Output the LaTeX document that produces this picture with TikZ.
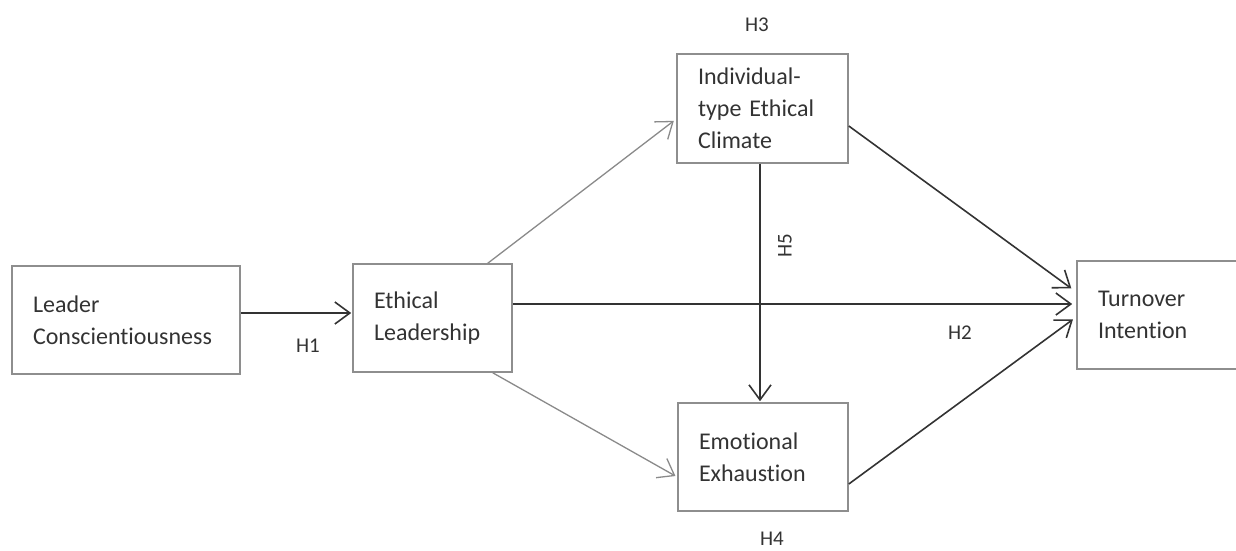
\documentclass[tikz,border=0pt]{standalone}
\usepackage{fontspec}
\setmainfont{Carlito}[RawFeature=-liga]
\usepackage{tikz}
\usetikzlibrary{arrows.meta}
\usetikzlibrary{positioning}

\definecolor{boxgray}{HTML}{8E8E8E}
\definecolor{inkgray}{HTML}{333333}
\definecolor{linegray}{HTML}{8A8A8A}

\tikzset{
  varbox/.style={draw=boxgray, line width=1.6pt, text=inkgray, align=left,
    inner xsep=21pt, inner ysep=0pt, minimum height=108pt,
    font=\fontsize{24}{32}\selectfont},
  hyp/.style={text=inkgray, inner sep=0pt, font=\fontsize{21}{24}\selectfont},
  path/.style={draw=inkgray, line width=1.6pt,
    -{Straight Barb[length=15pt,width=22pt,line width=1.6pt]}, shorten >=4pt},
  weakpath/.style={path, draw=linegray, line width=1.3pt,
    -{Straight Barb[length=15pt,width=22pt,line width=1.3pt]}}
}

\begin{document}
\begin{tikzpicture}[x=1pt, y=-1pt]
    \useasboundingbox (0,0) rectangle (1236,550);
    % constructs
    \node[varbox, text width=186pt] (lc) at (126,320) {Leader\\Conscientiousness};
    \node[varbox, text width=117pt] (el) at (432.5,318) {Ethical\\Leadership};
    \node[varbox, text width=129pt, minimum height=109pt] (ic) at (762.5,108.5) {Individual-\\type Ethical\\Climate};
    \node[varbox, text width=128pt] (ee) at (763,457) {Emotional\\Exhaustion};
    \node[varbox, text width=128pt] (ti) at (1162,315) {Turnover\\Intention};
    % paths
    \draw[path, shorten >=1pt] ([yshift=7pt]lc.east) -- ([yshift=5pt]el.west);
    \draw[path] ([yshift=14pt]el.east) -- ([yshift=11pt]ti.west);
    \draw[weakpath, shorten >=3pt] ([xshift=-25pt]el.north east) -- ([yshift=-10.5pt]ic.west);
    \draw[weakpath, shorten >=2pt] ([xshift=-20pt]el.south east) -- ([yshift=-20pt]ee.west);
    \draw[path, shorten >=1pt] ([xshift=-2.5pt]ic.south) -- ([xshift=-3pt]ee.north);
    \draw[path, shorten >=6pt] ([yshift=-17.5pt]ic.east) -- ([yshift=23pt]ti.west);
    \draw[path, shorten >=4pt] ([yshift=-27pt]ee.east) -- ([yshift=-2pt]ti.west);
    % hypotheses
    \node[hyp] (h1) at (308,346) {H1};
    \node[hyp] (h2) at (960,333) {H2};
    \node[hyp] (h3) at (757,25) {H3};
    \node[hyp] (h4) at (772,539) {H4};
    \node[hyp, rotate=90] (h5) at (785,246) {H5};
  \end{tikzpicture}
\end{document}
